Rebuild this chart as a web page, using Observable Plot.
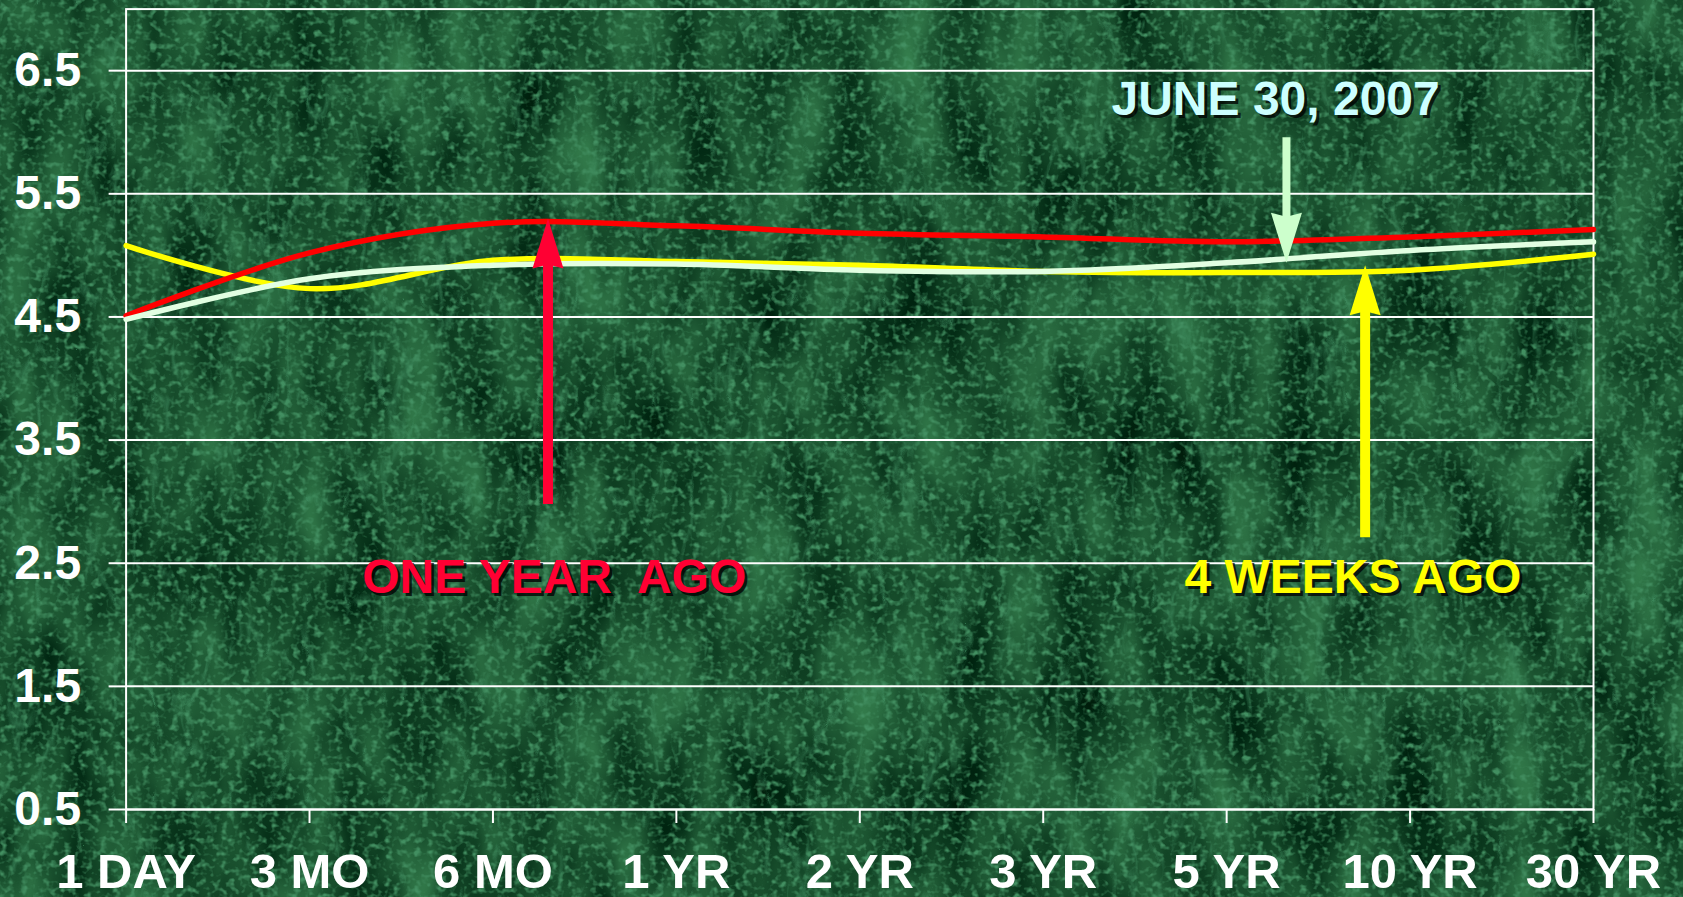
<!DOCTYPE html>
<html><head><meta charset="utf-8">
<script src="https://cdn.jsdelivr.net/npm/d3@7"></script>
<script src="https://cdn.jsdelivr.net/npm/@observablehq/plot@0.6"></script>
<style>
html,body{margin:0;padding:0;background:#174a2b;overflow:hidden}
#chart svg{display:block}
</style></head><body><div id="chart"></div>
<script>
// ---- data ----
const tenors = ["1 DAY","3 MO","6 MO","1 YR","2 YR","3 YR","5 YR","10 YR","30 YR"];
const oneYearAgo   = [4.51, 5.02, 5.26, 5.24, 5.18, 5.15, 5.11, 5.15, 5.21];
const fourWeeksAgo = [5.08, 4.73, 4.96, 4.95, 4.92, 4.87, 4.86, 4.88, 5.01];
const june30       = [4.48, 4.81, 4.92, 4.93, 4.88, 4.87, 4.94, 5.04, 5.11];
const yTicks = [0.5, 1.5, 2.5, 3.5, 4.5, 5.5, 6.5];
// annotation arrows (x in tenor index units, y in yield units)
const arrowX    = [2.30, 6.755, 6.326];
const arrowFrom = [2.98, 2.71, 5.96];
const arrowTo   = [5.30, 4.92, 4.94];
// annotation labels
const labelText = ["ONE YEAR\u00a0 AGO", "4 WEEKS AGO", "JUNE 30, 2007"];
const labelX    = [2.334, 6.688, 6.267];
const labelY    = [2.387, 2.387, 6.268];

const W = 1683, H = 897;
const rows = arr => arr.map((v, i) => ({i, v}));

function marble(index, scales, values, dimensions) {
  const w = (dimensions && dimensions.width) || W, h = (dimensions && dimensions.height) || H;
  const g = d3.create("svg:g");
  const f = g.append("defs").append("filter").attr("id", "marble")
    .attr("filterUnits", "userSpaceOnUse").attr("x", 0).attr("y", 0)
    .attr("width", w).attr("height", h).attr("color-interpolation-filters", "sRGB");
  f.append("feTurbulence").attr("type", "fractalNoise").attr("baseFrequency", "0.018 0.008")
    .attr("numOctaves", 3).attr("seed", 7).attr("result", "n1");
  f.append("feColorMatrix").attr("in", "n1").attr("type", "matrix")
    .attr("values", "0.3 0 0 0 -0.06  0.5 0 0 0 0.05  0.34 0 0 0 0.0  0 0 0 0 1").attr("result", "c1");
  f.append("feTurbulence").attr("type", "turbulence").attr("baseFrequency", "0.026 0.01")
    .attr("numOctaves", 4).attr("seed", 11).attr("result", "n3");
  f.append("feColorMatrix").attr("in", "n3").attr("type", "matrix")
    .attr("values", "0 0 0 0 0.28  0 0 0 0 0.6  0 0 0 0 0.42  -3.2 0 0 0 0.55").attr("result", "c3");
  f.append("feTurbulence").attr("type", "fractalNoise").attr("baseFrequency", "0.14 0.16")
    .attr("numOctaves", 2).attr("seed", 3).attr("result", "n2");
  f.append("feColorMatrix").attr("in", "n2").attr("type", "matrix")
    .attr("values", "0 0 0 0 0.26  0 0 0 0 0.56  0 0 0 0 0.38  3.2 0 0 0 -1.55").attr("result", "c2");
  const m = f.append("feMerge");
  m.append("feMergeNode").attr("in", "c1");
  m.append("feMergeNode").attr("in", "c3");
  m.append("feMergeNode").attr("in", "c2");
  g.append("rect").attr("x", 0).attr("y", 0).attr("width", w).attr("height", h)
    .attr("fill", "#174a2b").attr("filter", "url(#marble)");
  return g.node();
}

const headSymbol = {
  draw(ctx, size) {
    const r = Math.sqrt(size / Math.PI);
    const L = 5 * r, w = 1.55 * r;
    ctx.moveTo(0, 0); ctx.lineTo(w, L); ctx.lineTo(0, L * 0.92); ctx.lineTo(-w, L); ctx.closePath();
  }
};

function arrowMarks(i, color, width) {
  const up = arrowTo[i] > arrowFrom[i];
  return [
    Plot.link([i], {x1: k => arrowX[k], x2: k => arrowX[k], y1: k => arrowFrom[k],
      y2: k => arrowTo[k] + (up ? -0.2 : 0.2), stroke: color, strokeWidth: width}),
    Plot.dot([i], {x: k => arrowX[k], y: k => arrowTo[k], symbol: headSymbol, r: 10,
      fill: color, stroke: "none", rotate: up ? 0 : 180})
  ];
}
function labelMarks(i, color, size) {
  const base = {x: k => labelX[k], y: k => labelY[k], text: k => labelText[k], fontSize: size,
    fontWeight: "bold", textAnchor: "middle"};
  return [
    Plot.text([i], {...base, dx: 3, dy: 3, fill: "#000", fillOpacity: 0.75}),
    Plot.text([i], {...base, fill: color})
  ];
}

const chart = Plot.plot({
  width: W, height: H,
  marginLeft: 125.6, marginRight: 90, marginTop: 8.6, marginBottom: 88,
  style: {background: "transparent", color: "white", fontFamily: "'Liberation Sans', Arial, sans-serif", fontWeight: "bold", overflow: "visible"},
  x: {type: "linear", domain: [0, 8]},
  y: {domain: [0.5, 7]},
  marks: [
    marble,
    Plot.ruleY(yTicks, {stroke: "white", strokeWidth: 2}),
    Plot.frame({stroke: "white", strokeWidth: 2}),
    Plot.axisY(yTicks, {tickSize: 17, tickPadding: 28, fontSize: 48, fontWeight: "bold", stroke: "white", strokeWidth: 2, color: "white", label: null, tickFormat: d => d.toFixed(1)}),
    Plot.axisX(d3.range(tenors.length), {tickSize: 14, tickPadding: 30, fontSize: 49, fontWeight: "bold", stroke: "white", strokeWidth: 2, color: "white", label: null, tickFormat: i => tenors[i]}),
    Plot.line(rows(fourWeeksAgo), {x: "i", y: "v", stroke: "#ffff00", strokeWidth: 5.5, curve: "catmull-rom"}),
    Plot.line(rows(oneYearAgo), {x: "i", y: "v", stroke: "#ff0000", strokeWidth: 5.5, curve: "catmull-rom"}),
    Plot.line(rows(june30), {x: "i", y: "v", stroke: "#e2ffe2", strokeWidth: 5.5, curve: "catmull-rom"}),
    ...arrowMarks(0, "#ff0033", 10),
    ...arrowMarks(1, "#ffff00", 10),
    ...arrowMarks(2, "#ccffcc", 8),
    ...labelMarks(0, "#ff0033", 48),
    ...labelMarks(1, "#ffff00", 48),
    ...labelMarks(2, "#ccffff", 48)
  ]
});
document.getElementById("chart").append(chart);
</script></body></html>
